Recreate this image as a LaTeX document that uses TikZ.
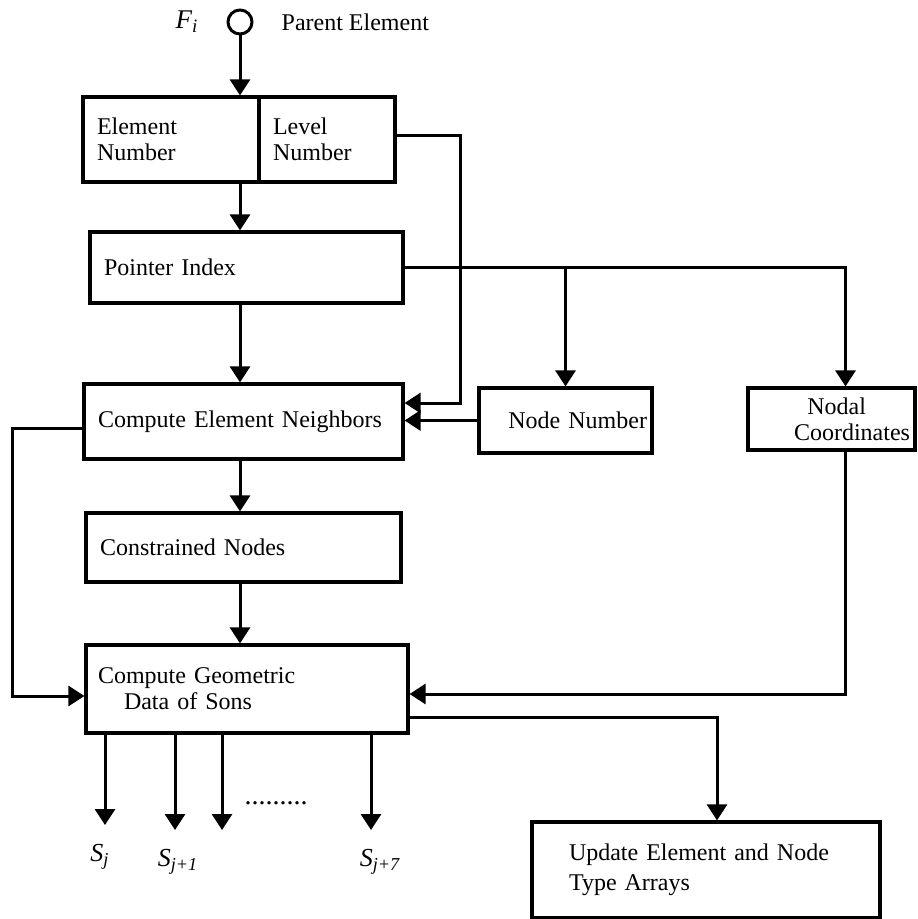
\documentclass[tikz,border=0pt]{standalone}
\usepackage{fontspec}
\setmainfont{Liberation Serif}
\usetikzlibrary{arrows.meta,positioning}

\begin{document}
\begin{tikzpicture}[x=0.5pt,y=-0.5pt,>={Triangle[width=10pt,length=8pt]},
  font=\fontsize{12}{13}\selectfont,line width=1.5pt,
  box/.style={draw,line width=1.6pt,inner xsep=7pt,inner ysep=2pt,align=left},
  rbox/.style={box,inner xsep=2.5pt,align=right},
  son/.style={font=\fontsize{13}{13}\selectfont\itshape}]
\useasboundingbox (0,0) rectangle (917,919);
\node[circle,draw,minimum size=12pt,inner sep=0pt] (parent) at (240,22) {};
\node[left=10pt of parent,font=\fontsize{13.5}{13.5}\selectfont\itshape] (fi) {F\textsubscript{i}};
\node[right=10pt of parent] (pe) {Parent Element};
\node[box,text width=74pt,minimum height=42.5pt] (elem) at (171,139.5) {Element\\Number};
\node[box,text width=54pt,minimum height=42.5pt] (level) at (327,139.5) {Level\\Number};
\node[box,text width=142.5pt,minimum height=35.5pt] (ptr) at (246.5,267.5) {Pointer Index};
\node[box,text width=145.5pt,minimum height=37.5pt] (cen) at (243.5,421.5) {Compute Element Neighbors};
\node[rbox,text width=81.5pt,minimum height=32.5pt] (nnum) at (565.5,420.5) {Node Number};
\node[rbox,text width=78.5pt,minimum height=31pt] (ncoord) at (831.5,419) {Nodal\kern22pt\\Coordinates};
\node[box,text width=143.5pt,minimum height=34.5pt] (cnodes) at (243.5,547.5) {Constrained Nodes};
\node[box,inner xsep=6pt,text width=149pt,minimum height=44pt] (cgeo) at (247,689) {Compute Geometric\\\hspace*{13pt}Data of Sons};
\node[box,inner xsep=18.5pt,text width=137pt,minimum height=48pt] (update) at (706,870) {Update Element and Node\\[2pt]Type Arrays};
% main column
\draw[->] (parent.south) -- (parent.south |- elem.north);
\draw[->] (parent.south |- elem.south) -- (parent.south |- ptr.north);
\draw[->] (parent.south |- ptr.south) -- (parent.south |- cen.north);
\draw[->] (parent.south |- cen.south) -- (parent.south |- cnodes.north);
\draw[->] (parent.south |- cnodes.south) -- (parent.south |- cgeo.north);
% level number and pointer index feed the neighbour search
\coordinate (lvbend) at (460,403);
\draw[->] ([yshift=2pt]level.east) -| (lvbend) -- (cen.east |- lvbend);
\draw[->] (ptr.east) -| ([xshift=7pt]ncoord.north);
\draw[->] (nnum.north |- ptr.east) -- (nnum.north);
\draw[->] (nnum.west) -- (cen.east |- nnum.west);
% inputs of the son computation
\draw[->] ([yshift=-3.5pt]cen.west) -- ++(-70,0) |- ([yshift=-3.5pt]cgeo.west);
\draw[->] ([xshift=7pt]ncoord.south) |- ([yshift=-2.5pt]cgeo.east);
\draw[->] ([yshift=-14pt]cgeo.east) -| ([xshift=5.5pt]update.north);
% sons
\coordinate (son1) at (105,825);
\coordinate (son2) at (175,830);
\coordinate (son3) at (222,830);
\coordinate (son4) at (371,830);
\draw[->] (son1 |- cgeo.south) -- (son1);
\draw[->] (son2 |- cgeo.south) -- (son2);
\draw[->] (son3 |- cgeo.south) -- (son3);
\draw[->] (son4 |- cgeo.south) -- (son4);
\node[son] (sj) at (100,857) {S\textsubscript{j}};
\node[son] (sj1) at (178,862) {S\textsubscript{j+1}};
\node[son] (sj7) at (380,862) {S\textsubscript{j+7}};
\node[font=\fontsize{14}{14}\selectfont] (dots) at (276,803) {.........};
\end{tikzpicture}
\end{document}
